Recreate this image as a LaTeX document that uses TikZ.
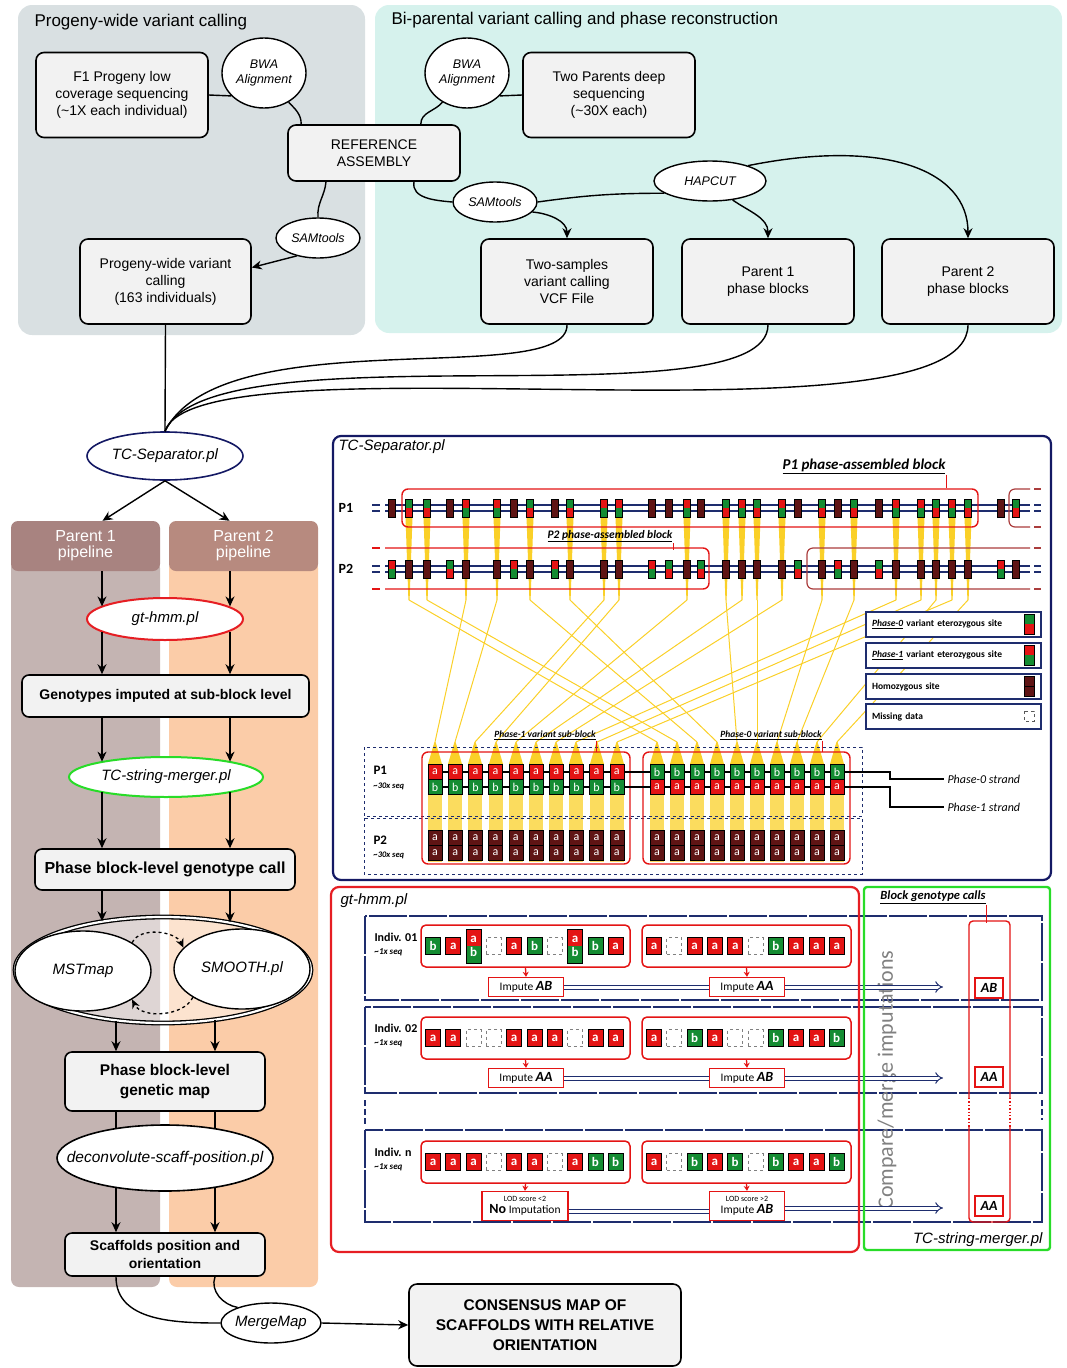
\documentclass[tikz,border=0pt]{standalone}
\usepackage{fontspec}
\setmainfont{Liberation Sans}
\newfontfamily\calib{Carlito}
\usetikzlibrary{arrows.meta,shapes.geometric,positioning}

\definecolor{panelgrey}{RGB}{217,224,226}
\definecolor{panelteal}{RGB}{214,242,237}
\definecolor{boxfill}{RGB}{242,242,242}
\definecolor{pOnehead}{RGB}{168,131,128}
\definecolor{pOnecol}{RGB}{196,180,178}
\definecolor{pTwohead}{RGB}{183,138,127}
\definecolor{pTwocol}{RGB}{251,204,168}
\definecolor{navy}{RGB}{30,45,110}
\definecolor{sepnavy}{RGB}{20,25,100}
\definecolor{hmmred}{RGB}{230,30,35}
\definecolor{mergegreen}{RGB}{40,220,40}
\definecolor{cred}{RGB}{228,20,20}
\definecolor{cgreen}{RGB}{20,140,50}
\definecolor{cbrown}{RGB}{95,20,20}
\definecolor{yel}{RGB}{250,208,40}
\definecolor{darkred}{RGB}{170,60,60}
\colorlet{topg}{cgreen}\colorlet{botg}{cred}
\colorlet{topr}{cred}\colorlet{botr}{cgreen}
\colorlet{toph}{cbrown}\colorlet{both}{cbrown}

\newcommand{\fz}[2]{\fontsize{#1}{#2}\selectfont}
\newcommand{\gtcall}[1]{{\bfseries\itshape\fz{14}{14}#1}}

\tikzset{
  box/.style={draw, line width=1.6pt, rounded corners=8pt, fill=boxfill, align=center, inner sep=2pt, font=\fz{14}{17}},
  pipebox/.style={draw, line width=1.6pt, rounded corners=7pt, fill=boxfill, align=center, inner sep=2pt, font=\bfseries\fz{14}{18}},
  tool/.style={draw, line width=1.4pt, ellipse, fill=white, inner sep=0pt, align=center, font=\itshape\fz{12.5}{15}},
  ell/.style={draw, line width=1.6pt, ellipse, fill=white, inner sep=0pt, font=\itshape\fz{15}{18}},
  phead/.style={minimum width=149, minimum height=50, rounded corners=7pt, text=white, align=center, inner sep=0pt, font=\fz{16}{16}},
  conn/.style={line width=1.4pt},
  arr/.style={line width=1.4pt, -{Stealth[length=10pt,width=9pt]}},
  sc/.style={draw=black, line width=0.6pt, minimum width=14, minimum height=15, inner sep=0pt, text=white, font=\calib\fz{12}{12}},
  gc/.style={draw=black, line width=0.8pt, minimum width=15, minimum height=17, inner sep=0pt, text=white, font=\calib\bfseries\fz{13}{13}},
  cla/.style={gc, fill=cred, node contents=a},
  clb/.style={gc, fill=cgreen, node contents=b},
  clm/.style={gc, draw=gray, dashed, node contents={}},
  clab/.style={gc, minimum height=34, fill=cred, node contents={\shortstack{a\\[2pt]b}},
    path picture={\fill[cgreen] (path picture bounding box.south west) rectangle (path picture bounding box.east);}},
  grp/.style={draw=cred, line width=1.5pt, rounded corners=5pt, fill=white, minimum width=209, minimum height=42},
  imp/.style={draw=cred, line width=1.4pt, fill=white, minimum width=75, minimum height=19, inner sep=1pt, align=center, font=\calib\fz{11.5}{12}},
  call/.style={draw=cred, line width=1.4pt, fill=white, minimum width=28, minimum height=20, inner sep=1pt, font=\calib\bfseries\itshape\fz{14}{14}},
  leg/.style={draw=navy, line width=1.6pt, fill=white, text width=163, inner xsep=6pt, minimum height=25, align=left, font=\calib\bfseries\fz{9.5}{10}},
  dbl/.style={navy, line width=1pt, double=white, double distance=3pt},
}

\begin{document}
\begin{tikzpicture}[x=1pt,y=-1pt]
\useasboundingbox (0,0) rectangle (1067,1368);

% top panels
\fill[panelgrey, rounded corners=14] (18,5) rectangle (365,335);
\fill[panelteal, rounded corners=14] (375,5) rectangle (1062,333);
\node[anchor=west, font=\fz{17}{20}] (ttlA) at (31,22) {Progeny-wide variant calling};
\node[anchor=west, font=\fz{17}{20}] (ttlB) at (388,20) {Bi-parental variant calling and phase reconstruction};

\node[box, minimum width=172, minimum height=85] (f1) at (122,95) {F1 Progeny low\\coverage sequencing\\(\textasciitilde1X each individual)};
\node[tool, minimum width=84, minimum height=70] (bwaA) at (264,73) {BWA\\Alignment};
\node[box, minimum width=172, minimum height=56] (ref) at (374,153) {REFERENCE\\ASSEMBLY};
\node[tool, minimum width=84, minimum height=70] (bwaB) at (467,73) {BWA\\Alignment};
\node[box, minimum width=172, minimum height=85] (twopar) at (609,95) {Two Parents deep\\sequencing\\(\textasciitilde30X each)};
\node[tool, minimum width=84, minimum height=40] (samA) at (318,238) {SAMtools};
\node[tool, minimum width=84, minimum height=40] (samB) at (495,202) {SAMtools};
\node[tool, minimum width=112, minimum height=40] (hapcut) at (710,181) {HAPCUT};
\node[box, minimum width=171, minimum height=85] (prog) at (165.5,281.5) {Progeny-wide variant\\calling\\(163 individuals)};
\node[box, minimum width=172, minimum height=85] (twosam) at (567,281.5) {Two-samples\\variant calling\\VCF File};
\node[box, minimum width=172, minimum height=85] (parA) at (768,281.5) {Parent 1\\phase blocks};
\node[box, minimum width=172, minimum height=85] (parB) at (968,281.5) {Parent 2\\phase blocks};

\draw[conn] (f1.east) -- (bwaA.215);
\draw[conn] (bwaA.-50) to[out=-45,in=90] ([xshift=14]ref.north west);
\draw[conn] (twopar.west) -- (bwaB.-35);
\draw[conn] (bwaB.-130) to[out=-130,in=90] ([xshift=-40]ref.north east);
\draw[conn] ([xshift=-48]ref.south) to[out=-95,in=95] (samA.north);
\draw[arr] (samA.-140) -- ([yshift=14]prog.east);
\draw[conn] ([xshift=40]ref.south) to[out=-100,in=175] (samB.west);
\draw[arr] (samB.-15) to[out=-5,in=90] (twosam.north);
\draw[conn] (samB.east) to[bend left=4] (hapcut.195);
\draw[arr] (hapcut.-40) to[out=-35,in=90] (parA.north);
\draw[arr] (hapcut.22) .. controls (885,138) and (968,170) .. (parB.north);

% left pipeline columns
\fill[pOnecol, rounded corners=8] (11,560) rectangle (160,1287);
\fill[pTwocol, rounded corners=8] (169,560) rectangle (318,1287);
\node[phead, fill=pOnehead] (headA) at (85.5,546) {Parent 1\\pipeline};
\node[phead, fill=pTwohead] (headB) at (243.5,546) {Parent 2\\pipeline};

\node[ell, draw=sepnavy, minimum width=156, minimum height=48] (tcsep) at (165,456) {TC-Separator.pl};
\draw[conn] (prog.south) -- (tcsep.north);
\draw[conn] (twosam.south) .. controls (568,390) and (222,318) .. (tcsep.north);
\draw[conn] (parA.south) .. controls (768,425) and (210,325) .. (tcsep.north);
\draw[conn] (parB.south) .. controls (968,455) and (198,332) .. (tcsep.north);
\draw[arr] (tcsep.south) -- ([xshift=17]headA.north);
\draw[arr] (tcsep.south) -- ([xshift=-14]headB.north);

\node[ell, draw=hmmred, line width=2pt, minimum width=156, minimum height=42] (gthmm) at (165,619) {gt-hmm.pl};
\node[pipebox, minimum width=287, minimum height=42] (geno) at (165.5,696) {Genotypes imputed at sub-block level};
\node[ell, draw=mergegreen, line width=2pt, inner xsep=-6pt, minimum width=194, minimum height=40] (tcsm) at (166,777) {TC-string-merger.pl};
\node[pipebox, minimum width=260, minimum height=41, font=\bfseries\fz{16}{18}] (pbcall) at (165,869.5) {Phase block-level genotype call};
\node[draw, double, double distance=2.2pt, line width=1.3pt, ellipse, fill=white, fill opacity=0.45, minimum width=296, minimum height=106] (bigell) at (163,970) {};
\node[ell, line width=1.4pt, minimum width=136, minimum height=80] (mst) at (83,971) {MSTmap};
\node[ell, line width=1.4pt, minimum width=136, minimum height=80] (smooth) at (242,969) {SMOOTH.pl};
\node[pipebox, minimum width=200, minimum height=59, font=\bfseries\fz{15.5}{20}] (pbmap) at (165,1081.5) {Phase block-level\\genetic map};
\node[ell, inner xsep=-24pt, minimum width=216, minimum height=66, font=\itshape\fz{15.5}{18}] (deconv) at (165,1158) {deconvolute-scaff-position.pl};
\node[pipebox, minimum width=200, minimum height=43] (scaff) at (165,1254.5) {Scaffolds position and\\orientation};
\node[ell, line width=1.4pt, inner xsep=-6pt, minimum width=100, minimum height=40] (mmap) at (271,1323) {MergeMap};
\node[box, minimum width=272, minimum height=82, font=\bfseries\fz{15.5}{20}] (cons) at (545,1325) {CONSENSUS MAP OF\\SCAFFOLDS WITH RELATIVE\\ORIENTATION};

\coordinate (laneA) at (102,0);
\coordinate (laneB) at (230,0);
\coordinate (laneC) at (116,0);
\coordinate (laneD) at (215,0);
\draw[arr] (headA.south -| laneA) -- (laneA |- gthmm.169);
\draw[arr] (headB.south -| laneB) -- (laneB |- gthmm.11);
\draw[arr] (laneA |- gthmm.191) -- (laneA |- geno.north);
\draw[arr] (laneB |- gthmm.-11) -- (laneB |- geno.north);
\draw[arr] (geno.south -| laneA) -- (laneA |- tcsm.167);
\draw[arr] (geno.south -| laneB) -- (laneB |- tcsm.13);
\draw[arr] (laneA |- tcsm.193) -- (laneA |- pbcall.north);
\draw[arr] (laneB |- tcsm.-13) -- (laneB |- pbcall.north);
\draw[arr] (pbcall.south -| laneA) -- (laneA |- bigell.142);
\draw[arr] (pbcall.south -| laneB) -- (laneB |- bigell.35);
\draw[line width=1.3pt, dashed, -{Stealth[length=9pt,width=8pt]}] (mst.30) to[out=65,in=115, looseness=0.9] (smooth.160);
\draw[line width=1.3pt, dashed, -{Stealth[length=9pt,width=8pt]}] (smooth.210) to[out=-115,in=-65, looseness=0.9] (mst.-30);
\draw[arr] (laneC |- bigell.227) -- (laneC |- pbmap.north);
\draw[arr] (laneD |- bigell.316) -- (laneD |- pbmap.north);
\draw[conn] (pbmap.south -| laneC) -- (laneC |- deconv.149);
\draw[conn] (pbmap.south -| laneD) -- (laneD |- deconv.30);
\draw[arr] (laneC |- deconv.211) -- (laneC |- scaff.north);
\draw[arr] (laneD |- deconv.330) -- (laneD |- scaff.north);
\draw[conn] (scaff.south -| laneC) to[out=-90,in=180] (mmap.west);
\draw[conn] (scaff.south -| laneD) to[out=-110,in=170] (mmap.155);
\draw[arr] (mmap.east) -- (cons.west);

% TC-Separator panel
\node[anchor=west, font=\itshape\fz{15}{15}] (septtl) at (335,447) {TC-Separator.pl};
\foreach \m/\c in {466/435,497/455,604/475,619/496,687/516,742/536,782/556,896/576,921/597,952/617,
                   409/657,427/677,530/697,570/717,726/737,757/757,822/777,854/797,936/817,968/837} {
  \fill[yel] (\m-3.5,517) -- (\m+3.5,517) -- (\m+0.6,600) -- (\m-0.6,600) -- cycle;
  \draw[yel, line width=1pt] (\m,600) -- (\c,742);
  \fill[yel] (\c-0.6,742) -- (\c+0.6,742) -- (\c+7,764) -- (\c-7,764) -- cycle;
  \fill[yel!75] (\c-7,764) rectangle (\c+7,862);
}
\foreach \y in {505,511,566,572} {
  \draw[navy, line width=1.4pt] (385,\y) -- (1030,\y);
  \draw[navy, line width=1.4pt] (372,\y) -- (380,\y);
  \draw[navy, line width=1.4pt] (1034,\y) -- (1041,\y);
}
% P1 sites
\foreach \x/\t in {392/h,409/g,427/g,450/h,466/r,497/r,514/h,530/g,555/h,570/g,604/r,619/r,652/h,669/h,687/r,701/h,
                   726/g,742/r,757/g,782/r,798/h,822/g,838/h,854/g,879/h,896/r,921/r,936/g,952/r,968/g,1001/h,1016/g} {
  \fill[fill=top\t] (\x-3.5,499) rectangle (\x+3.5,508);
  \fill[fill=bot\t] (\x-3.5,508) rectangle (\x+3.5,517);
  \draw[line width=0.5pt] (\x-3.5,499) rectangle (\x+3.5,517);
}
% P2 sites
\foreach \x/\t in {392/r,409/h,427/h,450/g,466/h,497/h,514/r,530/h,555/r,570/h,604/h,619/h,652/r,669/g,687/h,701/g,
                   726/h,742/h,757/h,782/h,798/g,822/h,838/r,854/h,879/g,896/h,921/h,936/h,952/h,968/h,1001/r,1016/h} {
  \fill[fill=top\t] (\x-3.5,560) rectangle (\x+3.5,569);
  \fill[fill=bot\t] (\x-3.5,569) rectangle (\x+3.5,578);
  \draw[line width=0.5pt] (\x-3.5,560) rectangle (\x+3.5,578);
}
\node[font=\calib\bfseries\fz{14}{14}] (rowA) at (346,508) {P1};
\node[font=\calib\bfseries\fz{14}{14}] (rowB) at (346,569) {P2};
% phase-assembled blocks
\draw[cred, line width=1.4pt, rounded corners=6] (402,489) rectangle (978,527);
\draw[darkred, line width=1.2pt, rounded corners=6] (1030,489) -- (1009,489) -- (1009,527) -- (1030,527);
\draw[cred, line width=1.4pt, rounded corners=6] (385,548) -- (709,548) -- (709,589) -- (385,589);
\draw[darkred, line width=1.2pt, rounded corners=6] (1030,548) -- (807,548) -- (807,589) -- (1030,589);
\foreach \y in {489,527} \draw[darkred, line width=1.2pt] (1034,\y) -- (1041,\y);
\foreach \y in {548,589} {
  \draw[cred, line width=1.4pt] (372,\y) -- (380,\y);
  \draw[darkred, line width=1.2pt] (1034,\y) -- (1041,\y);
}
\node[font=\calib\bfseries\itshape\fz{15}{15}, inner sep=1pt] (blkA) at (864,466) {\underline{P1 phase-assembled block}};
\draw[cred, line width=1.2pt] (blkA.south east) -- ++(0,13);
\node[font=\calib\bfseries\itshape\fz{11.5}{11.5}, inner sep=1pt] (blkB) at (610,536) {\underline{P2 phase-assembled block}};
\draw[cred, line width=1.2pt] (blkB.south east) -- ++(0,7);

% sub-blocks
\draw[navy, dashed, line width=1pt] (364,747) rectangle (862,816);
\draw[navy, dashed, line width=1pt] (364,818) rectangle (862,874);
\draw[cred, line width=1.4pt, rounded corners=6] (422,752) rectangle (630,864);
\draw[cred, line width=1.4pt, rounded corners=6] (643,752) rectangle (850,864);
\node[font=\calib\bfseries\itshape\fz{9.5}{10}, inner sep=1pt] (subA) at (545,735) {\underline{Phase-1 variant sub-block}};
\draw[cred, line width=1.1pt] (subA.south east) -- ++(0,11);
\node[font=\calib\bfseries\itshape\fz{9.5}{10}, inner sep=1pt] (subB) at (771,735) {\underline{Phase-0 variant sub-block}};
\draw[cred, line width=1.1pt] (subB.south east) -- ++(0,11);
\node[anchor=west, font=\calib\itshape\fz{12}{12}] (strA) at (944,779) {Phase-0 strand};
\node[anchor=west, font=\calib\itshape\fz{12}{12}] (strB) at (944,807) {Phase-1 strand};
\draw[line width=1.2pt] (435,772) -- (890,772) |- (strA.west);
\draw[line width=1.2pt] (435,787) -- (890,787) |- (strB.west);
\foreach \i in {0,...,9} {
  \node[sc, fill=cred] (sat\i) at ({435+20.2*\i},772) {a};
  \node[sc, fill=cgreen] (sab\i) at ({435+20.2*\i},787) {b};
  \node[sc, fill=cgreen] (sbt\i) at ({657+20*\i},772) {b};
  \node[sc, fill=cred] (sbb\i) at ({657+20*\i},787) {a};
  \node[sc, fill=cbrown] (pat\i) at ({435+20.2*\i},838) {a};
  \node[sc, fill=cbrown] (pab\i) at ({435+20.2*\i},853) {a};
  \node[sc, fill=cbrown] (pbt\i) at ({657+20*\i},838) {a};
  \node[sc, fill=cbrown] (pbb\i) at ({657+20*\i},853) {a};
}
\node[anchor=west, font=\calib\bfseries\fz{13}{13}] (subP1) at (370,770) {P1};
\node[anchor=west, font=\calib\bfseries\itshape\fz{8.5}{9}] (subS1) at (370,786) {\textasciitilde30x seq};
\node[anchor=west, font=\calib\bfseries\fz{13}{13}] (subP2) at (370,840) {P2};
\node[anchor=west, font=\calib\bfseries\itshape\fz{8.5}{9}] (subS2) at (370,855) {\textasciitilde30x seq};

% legend
\node[leg] (legA) at (953.5,624.5) {\underline{\textit{Phase-0}} variant eterozygous site};
\node[leg] (legB) at (953.5,655.5) {\underline{\textit{Phase-1}} variant eterozygous site};
\node[leg] (legC) at (953.5,686.5) {Homozygous site};
\node[leg] (legD) at (953.5,716.5) {Missing data};
\fill[cgreen] (1024,614) rectangle (1034,624); \fill[cred] (1024,624) rectangle (1034,634);
\draw[line width=0.6pt] (1024,614) rectangle (1034,634);
\fill[cred] (1024,645) rectangle (1034,655); \fill[cgreen] (1024,655) rectangle (1034,665);
\draw[line width=0.6pt] (1024,645) rectangle (1034,665);
\fill[cbrown] (1024,676) rectangle (1034,696);
\draw[line width=0.6pt] (1024,676) rectangle (1034,696) (1024,686) -- (1034,686);
\draw[gray!70!black, dashed, line width=0.8pt] (1024,711) rectangle (1034,721);

% gt-hmm panel
\node[anchor=west, font=\itshape\fz{15}{15}] (hmmttl) at (337,901) {gt-hmm.pl};
\draw[navy, line width=1.3pt, dash pattern=on 38pt off 2pt] (365,916) rectangle (1042,1000);
\draw[navy, line width=1.3pt, dash pattern=on 38pt off 2pt] (365,1007) rectangle (1042,1093);
\draw[navy, line width=1.3pt, dash pattern=on 38pt off 2pt] (365,1130) rectangle (1042,1222);
\draw[navy, line width=1.3pt, dash pattern=on 6pt off 3pt] (365,1100) -- (365,1125) (1042,1100) -- (1042,1120);
\node[rotate=90, font=\calib\fz{22}{22}, text=gray] (cmp) at (887,1080) {Compare/merge imputations};

\node[anchor=west, font=\calib\bfseries\fz{12}{12}] (indA) at (371,937) {Indiv. 01};
\node[anchor=west, font=\calib\bfseries\itshape\fz{9}{9}] (seqA) at (371,952) {\textasciitilde1x seq};
\node[anchor=west, font=\calib\bfseries\fz{12}{12}] (indB) at (371,1028) {Indiv. 02};
\node[anchor=west, font=\calib\bfseries\itshape\fz{9}{9}] (seqB) at (371,1043) {\textasciitilde1x seq};
\node[anchor=west, font=\calib\bfseries\fz{12}{12}] (indC) at (371,1152) {Indiv. n};
\node[anchor=west, font=\calib\bfseries\itshape\fz{9}{9}] (seqC) at (371,1167) {\textasciitilde1x seq};

\node[grp] (gA1) at (525.5,946) {};
\node[grp] (gA2) at (746.5,946) {};
\node[grp] (gB1) at (525.5,1038) {};
\node[grp] (gB2) at (746.5,1038) {};
\node[grp] (gC1) at (525.5,1162) {};
\node[grp] (gC2) at (746.5,1162) {};
\foreach \t [count=\i from 0] in {clb,cla,clab,clm,cla,clb,clm,clab,clb,cla} \node (a1c\i) at ({433+20.3*\i},946) [\t];
\foreach \t [count=\i from 0] in {cla,clm,cla,cla,cla,clm,clb,cla,cla,cla} \node (a2c\i) at ({654+20.3*\i},946) [\t];
\foreach \t [count=\i from 0] in {cla,cla,clm,clm,cla,cla,cla,clm,cla,cla} \node (b1c\i) at ({433+20.3*\i},1038) [\t];
\foreach \t [count=\i from 0] in {cla,clm,clb,cla,clm,clm,clb,cla,cla,clb} \node (b2c\i) at ({654+20.3*\i},1038) [\t];
\foreach \t [count=\i from 0] in {cla,cla,cla,clm,cla,cla,clm,cla,clb,clb} \node (c1c\i) at ({433+20.3*\i},1162) [\t];
\foreach \t [count=\i from 0] in {cla,clm,clb,cla,clb,clm,clb,cla,cla,clb} \node (c2c\i) at ({654+20.3*\i},1162) [\t];

\node[imp] (iA1) at (526,987) {Impute \gtcall{AB}};
\node[imp] (iA2) at (747,987) {Impute \gtcall{AA}};
\node[imp] (iB1) at (526,1078) {Impute \gtcall{AA}};
\node[imp] (iB2) at (747,1078) {Impute \gtcall{AB}};
\node[imp, minimum width=86, minimum height=29] (iC1) at (525,1206) {{\fz{8}{9}LOD score <2}\\{\bfseries\fz{14}{14}No} Imputation};
\node[imp, minimum height=29] (iC2) at (747,1206) {{\fz{8}{9}LOD score >2}\\Impute \gtcall{AB}};
\foreach \g/\b in {gA1/iA1,gA2/iA2,gB1/iB1,gB2/iB2,gC1/iC1,gC2/iC2}
  \draw[cred, line width=1.3pt, -{Stealth[length=5pt,width=6pt]}] (\g.south) -- (\b.north);

% block genotype calls
\node[font=\calib\bfseries\itshape\fz{12.5}{13}, inner sep=1pt] (bgc) at (933,897) {\underline{Block genotype calls}};
\draw[cred, line width=1.2pt] (bgc.south east) -- ++(0,18);
\draw[cred, line width=1.4pt, rounded corners=4] (969,1098) -- (969,921) -- (1010,921) -- (1010,1098);
\draw[cred, line width=1.4pt, rounded corners=4] (969,1127) -- (969,1222) -- (1010,1222) -- (1010,1127);
\draw[cred, line width=1.4pt, dotted] (969,1098) -- (969,1127) (1010,1098) -- (1010,1127);
\node[call] (callA) at (989,988) {AB};
\node[call] (callB) at (989,1077) {AA};
\node[call] (callC) at (989,1206) {AA};
\coordinate (endA) at (943,987);
\coordinate (endB) at (943,1078);
\coordinate (endC) at (943,1208);
\draw[dbl] (iA1.east) -- (iA2.west);
\draw[dbl, -{Implies}] (iA2.east) -- (endA);
\draw[dbl] (iB1.east) -- (iB2.west);
\draw[dbl, -{Implies}] (iB2.east) -- (endB);
\draw[dbl] ([yshift=-5]iC1.east) -- ([yshift=-5]iC2.west);
\draw[dbl, -{Implies}] ([yshift=-2]iC2.east) -- (endC);
\node[anchor=east, font=\itshape\fz{15}{15}] (mrgttl) at (1046,1240) {TC-string-merger.pl};

% panel borders
\draw[sepnavy, line width=2.2pt, rounded corners=8] (333,436) rectangle (1051,880);
\draw[hmmred, line width=2.2pt, rounded corners=8] (331,887) rectangle (859,1252);
\draw[mergegreen, line width=2.4pt, rounded corners=3] (864,887) rectangle (1050,1250);
\end{tikzpicture}
\end{document}
